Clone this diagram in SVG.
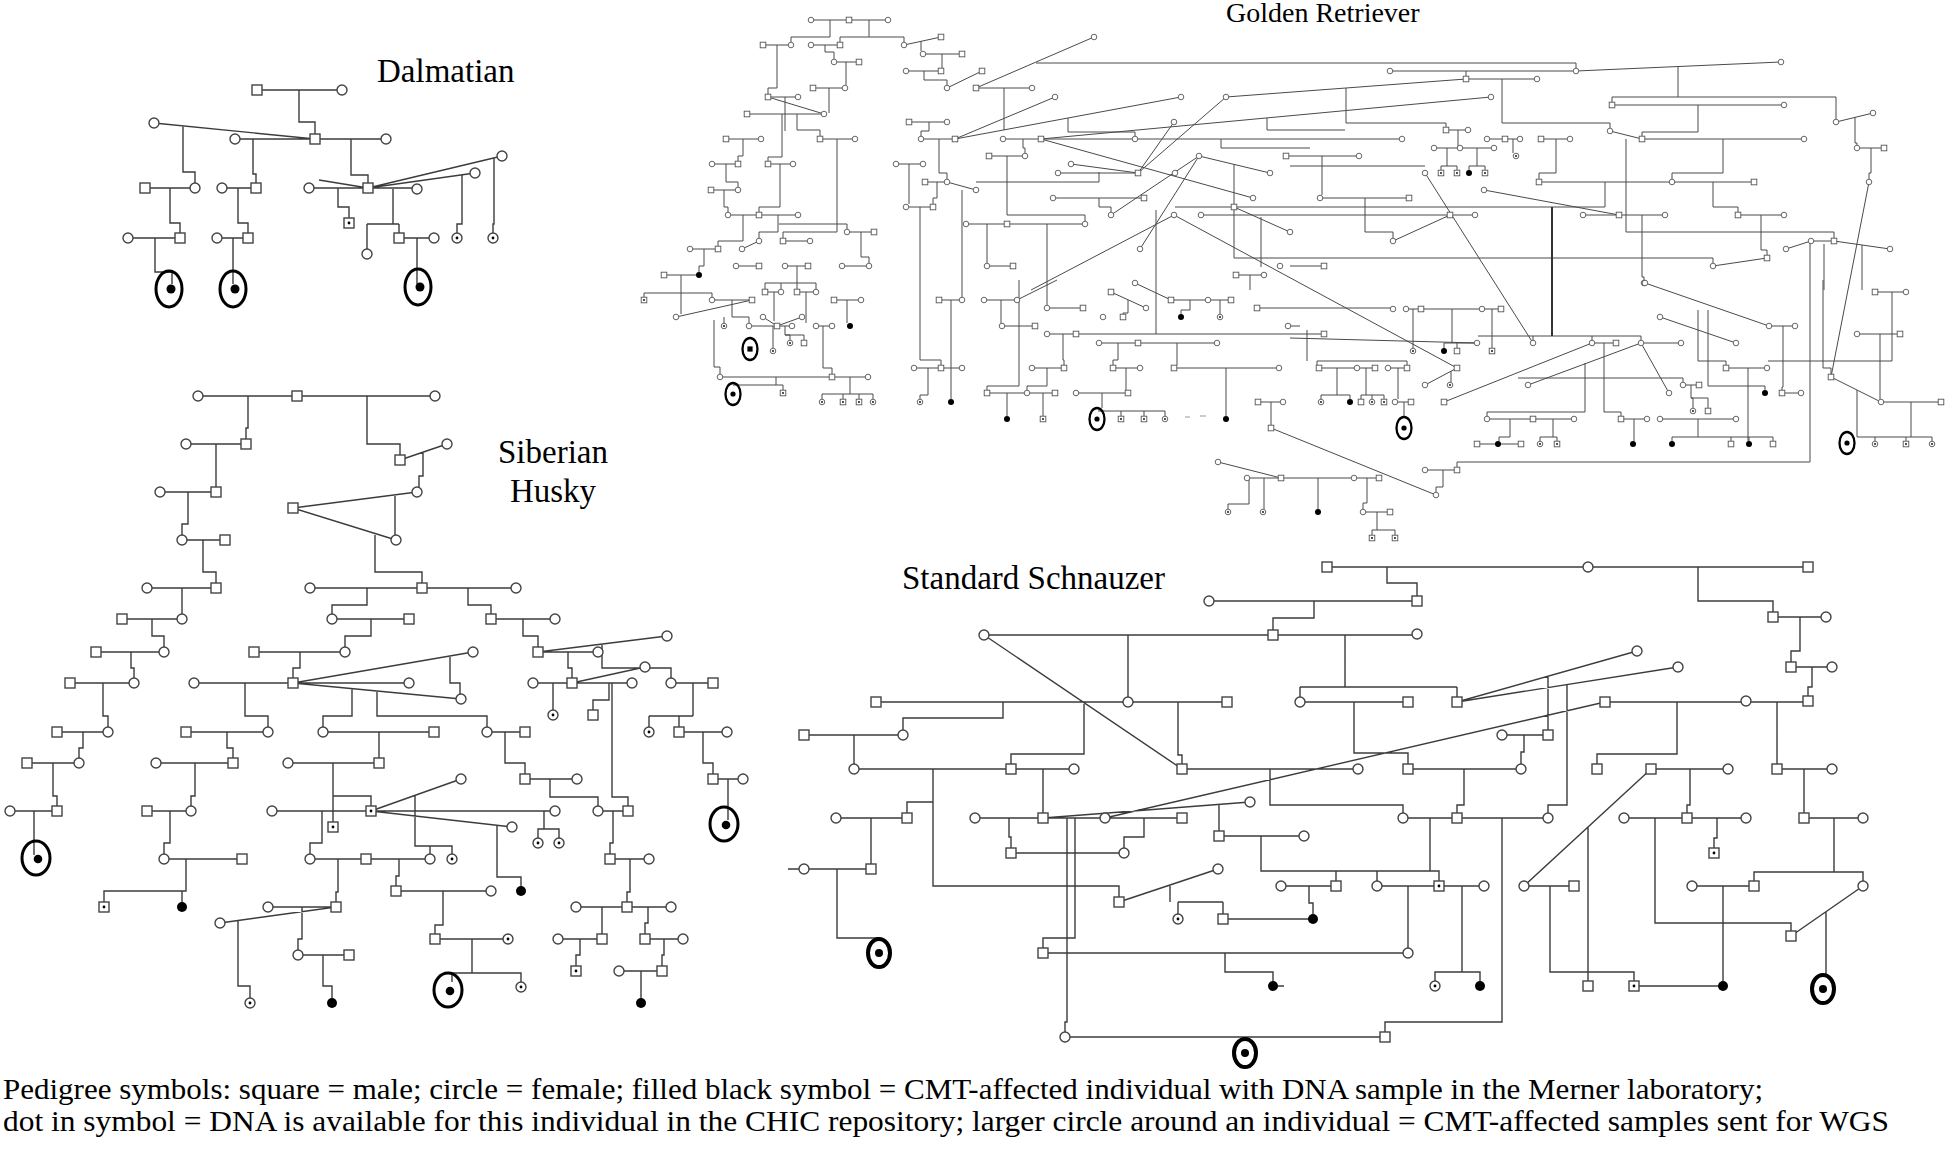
<svg xmlns="http://www.w3.org/2000/svg" xmlns:xlink="http://www.w3.org/1999/xlink" width="1946" height="1151" viewBox="0 0 1946 1151">
<style>
.c{fill:none;stroke:#3c3c3c;stroke-width:1.4}
.gc{fill:none;stroke:#4a4a4a;stroke-width:1}
.t{font-family:"Liberation Serif","Times New Roman",serif;fill:#000}
</style>
<defs>
<rect id="S" x="-5" y="-5" width="10" height="10" fill="#fff" stroke="#444" stroke-width="1.4"/>
<circle id="C" r="5" fill="#fff" stroke="#444" stroke-width="1.4"/>
<g id="Sd"><use href="#S"/><circle r="1.4" fill="#000"/></g>
<g id="Cd"><use href="#C"/><circle r="1.4" fill="#000"/></g>
<circle id="Cf" r="5" fill="#000"/>
<g id="R1"><ellipse rx="13" ry="18" fill="none" stroke="#000" stroke-width="3"/><circle cx="2" r="4.5" fill="#000"/></g>
<g id="R2"><ellipse rx="14" ry="17" fill="none" stroke="#000" stroke-width="3"/><circle cx="2" cy="1" r="4.3" fill="#000"/></g>
<g id="R3"><ellipse rx="11" ry="14" fill="none" stroke="#000" stroke-width="4"/><circle r="4" fill="#000"/></g>
<rect id="gS" x="-2.8" y="-2.8" width="5.6" height="5.6" fill="#fff" stroke="#555" stroke-width="0.9"/>
<circle id="gC" r="2.8" fill="#fff" stroke="#555" stroke-width="0.9"/>
<g id="gSd"><use href="#gS"/><circle r="0.9" fill="#000"/></g>
<g id="gCd"><use href="#gC"/><circle r="0.9" fill="#000"/></g>
<circle id="gCf" r="3" fill="#000"/>
<g id="gR"><ellipse rx="7.5" ry="11" fill="none" stroke="#000" stroke-width="2.3"/><circle r="2.6" fill="#000"/></g>
<g id="gRs"><ellipse rx="7.5" ry="11" fill="none" stroke="#000" stroke-width="2.3"/><rect x="-2.6" y="-2.6" width="5.2" height="5.2" fill="#000"/></g>
</defs>
<rect width="1946" height="1151" fill="#fff"/>

<g id="titles">
<text class="t" x="377" y="82" font-size="33">Dalmatian</text>
<text class="t" x="553" y="463" font-size="33" text-anchor="middle">Siberian</text>
<text class="t" x="553" y="502" font-size="33" text-anchor="middle">Husky</text>
<text class="t" x="1226" y="22" font-size="28">Golden Retriever</text>
<text class="t" x="902" y="589" font-size="33">Standard Schnauzer</text>
</g>

<g id="connectors">
<path class="c" d="M257 90H342M299 90V122H315V134M154 123L315 139M235 139H386M183 126V172H195V183M145 188H195M170 188V223H180V233M128 238H180M155 238V272H172V284M253 139V174H256V183M222 188H256M238 188V223H248V233M217 238H248M233 238V284M351 139V175H368V183M309 188H417M319 180L368 188M368 188L475 173M368 188L502 156M338 188V207H349V218M393 189V224M367 224H399M367 224V249M399 224V233M399 238H434M417 238V284M462 175V224H457V233M494 158V224H493V233"/>
<path class="c" d="M198 396H435M248 396V428H246V439M186 444H246M216 444V487M160 492H216M188 492V524H182V535M182 540H225M203 540V572H216V583M147 588H216M182 588V614M122 619H182M152 619V636H164V647M96 652H164M131 652V668H134V678M70 683H134M103 683V716H108V727M57 732H108M83 732V748H79V758M27 763H79M53 763V796H57V806M10 811H57M34 811V855M367 396V444H400V455M400 460L447 444M423 452V476H419V487M293 508L417 492M293 508L396 540M395 495V535M375 533V572H422V583M310 588H516M468 588V605H491V614M491 619H555M367 588V605H332V614M332 619H409M371 619V636H345V647M254 652H345M300 652V668H293V678M194 683H293M293 683L473 652M293 683H409M293 683L461 699M450 656V683H460V694M523 619V636H538V647M538 652H598M538 652L667 636M568 652V668H572V678M602 644V668H671V678M533 683H632M572 683L645 667M671 683H713M245 683V716H268V727M186 732H268M227 732V748H233V758M156 763H233M195 763V796H191V806M147 811H191M170 811V843H164V854M164 859H242M186 859V891H104V902M182 891V902M352 689V716H323V727M377 691V716H487V727M323 732H434M379 732V758M288 763H379M333 763V822M333 796H371V806M272 811H371M322 811V843H310V854M310 859H366M338 859V892H336V902M268 907H336M302 907V939H298V950M298 955H349M323 955V986H332V998M220 923L336 907M238 921V986H250V998M487 732H525M505 732V763H525V774M525 779H577M550 779V797H598V806M598 811H628M612 683V797H628V806M613 811V843H610V854M610 859H649M630 859V892H627V902M576 907H671M602 907V934M558 939H602M580 939V955H576V966M648 907V923H645V934M645 939H683M664 939V955H662V966M619 971H662M641 971V998M693 683V716M649 716H693M649 716V727M679 716V727M679 732H727M703 732V763H713V774M713 779H743M728 779V820M553 683V710M609 683V700H593V710M371 811H555M371 811L461 779M371 811L512 827M544 811V829H538V838M544 829H559V838M415 795V846H452V854M430 846V854M366 859H430M399 859V876H396V886M396 891H491M443 891V925H435V934M435 939H508M472 939V973H452V982M472 973H521V982M497 825V877H521V886"/>
<path class="c" d="M1327 567H1808M1387 567V583H1417V596M1698 567V601H1773V612M1209 601H1417M1314 601V618H1273V630M984 635H1417M1128 635V697M1345 635V687M1300 687H1457M1300 687V697M1457 687V697M876 702H1227M984 635L1182 769M1003 702V718H903V730M804 735H903M854 735V764M1084 702V754H1011V764M854 769H1074M1178 702V755H1182V764M1182 769H1358M1270 769V805H1403V813M1354 702V753H1408V764M1300 702H1408M933 769V802H907V813M933 802V886H1119V897M836 818H907M871 818V864M804 869H871M788 869H799M837 869V938H879V940M1043 769V813M975 818H1182M1043 818L1250 802M1105 818L1605 702M1009 818V837H1011V848M1011 853H1124M1144 818V837H1124V848M1075 818V938H1043V948M1067 818V1022H1065V1032M1043 953H1408M1225 953V972H1273V981M1273 986H1284M1065 1037H1385M1119 902L1218 869M1170 885V902M1178 902H1223M1178 902V914M1223 902V914M1223 919H1313M1281 886H1336M1309 886V903H1313V914M1219 804V831M1219 836H1304M1261 836V871H1439V881M1336 871V881M1377 871V881M1773 617H1826M1800 617V651H1791V662M1791 667H1832M1812 667V687H1808V696M1605 702H1808M1677 702V754H1597V764M1777 702V764M1777 769H1832M1804 769V813M1804 818H1863M1834 818V872H1754V881M1834 872H1863V881M1692 886H1754M1723 886V981M1863 886L1791 936M1826 912V975M1651 769H1728M1651 769L1524 886M1690 769V805H1687V813M1624 818H1746M1717 818V838H1714V848M1655 818V923H1791V931M1524 886H1574M1550 886V972H1634V981M1634 986H1723M1588 827V981M1457 702L1637 651M1457 702L1678 667M1548 676V730M1502 735H1548M1524 735V752H1521V764M1408 769H1521M1464 769V805H1457V813M1403 818H1548M1567 685V805H1548V813M1430 818V871M1377 886H1484M1462 886V972H1435V981M1462 972H1480V981M1408 886V948M1502 818V1022H1385V1032"/>
<path class="gc" d="M811 20H888M830 20V37H791V42M869 20V37M840 37H904M840 37V42M904 37V42M763 45H791M811 45H840M904 45L941 37M921 41V51M923 54H962M942 54V68M906 71H941M924 71V80H947V85M947 88L982 71M976 88H1032M976 88L1094 37M1036 63H1576V68M1004 88V130M825 45V52H834V59M834 62H859M846 62V85M813 88H845M829 88V113M777 45V88H768V94M768 97H798M768 97L824 114M747 114H824M785 97V131M782 114V157H768V161M797 114V130H820V136M820 139H855M837 139V232H783V238M726 139H761M743 139V156H738V161M712 164H738M726 164V182H738V187M711 190H738M724 190V207H728V212M768 164H793M780 164V207H759V212M728 215H798M778 215V232H759V238M783 241H810M742 249L759 241M743 215V241H718V246M690 249H718M704 249V266H699V272M664 275H699M681 275V314M736 266H759M785 266H808M797 266V283M765 283H816M765 283V289M781 283V289M797 283V289M816 283V289M765 292H781M797 292H816M842 266H869M847 232H874M861 232V257H869V263M779 224H847V229M896 164H923M909 164V204M906 207H933M920 207V360H941V365M909 122H947M929 122V131H921V136M921 139H955M955 139L1055 97M955 139L1181 97M939 139V173H947V179M925 182H947M947 182L976 190M937 182V198H933V204M976 182H1099V172M962 190V297M1003 139H1402M1023 139V148H1025V153M989 156H1025M1007 156V215H1085V221M966 224H1085M987 224V263M987 266H1013M1047 224V305M1041 139L1491 97M1041 139L1253 198M1226 97L1466 79M1226 97L1138 173M1174 122L1138 173M1071 164L1138 173M1058 173H1138M1199 156L1140 249M1199 156L1111 215M1199 156L1270 173M1053 198H1144M1099 198V207H1111V212M1234 207L1290 232M1234 164V258H1713V263M1174 215L1031 290M1174 215L1457 368M1201 215H1450M1286 156H1359M1236 275H1264M1267 118V130H1345M1221 139V148H1310M1068 118V132H1135V136M1156 210V334M1261 217V267M1250 275V290"/>
<path class="gc" d="M1390 71H1576L1781 62M1466 71V76M1466 79H1537M1346 88V123H1446V127M1446 130H1468M1502 79V123H1610V128M1610 131L1642 139M1642 139H1804M1678 66V97M1612 97H1836M1612 97V102M1836 97V119M1612 105H1784M1698 105V132H1642V136M1836 122L1873 113M1855 117V143H1857V145M1857 148H1884M1871 148V173H1869V179M1869 182L1831 377M1487 139H1520M1513 139V153M1541 139H1570M1556 139V173H1539V179M1434 148H1494M1458 130V148M1447 148V166H1441V170M1447 166H1457V170M1477 148V166H1469V170M1477 166H1485V170M1290 166H1425M1425 173L1533 343M1539 182H1754M1605 182V207H1175M1713 182V207H1738V212M1738 215H1784M1761 215V250H1767V255M1723 139V173H1672V179M1484 190L1619 215M1583 215H1665M1642 215V277H1644V280M1320 198H1409M1322 156V195M1365 198V232H1393V238M1393 241L1450 215M1450 215H1475M1713 266L1767 258M1626 139V232H1834V238M1811 241H1834M1786 249L1811 241M1834 241L1890 249M1810 241V462H1457V467M1824 244V290M1862 245V290M1290 266H1324M1257 308H1393M1406 309H1501M1452 309V343M1444 343H1477M1444 343V348M1457 343V348M1492 309V348M1413 309V348M1290 338L1477 343M1076 334H1324M1457 368L1425 385M1451 371V382M1319 368H1375M1388 368H1407M1317 361H1407M1317 361V365M1407 361V365M1307 330V361M1337 368V395H1321V399M1337 395H1350V399M1366 368V395H1361V399M1366 395H1384V399M1372 395V399M1398 368V399M1395 402H1411M1404 402V417M1444 402L1592 343M1478 336H1641M1533 336V340M1592 336V340M1641 336V340M1592 343H1616M1641 343H1681M1641 343L1528 385M1641 343L1669 393M1518 378H1683V382M1683 385H1699M1691 385V398H1693V408M1691 398H1708V408M1487 419H1574M1585 363V412H1487V416M1510 419V437H1499V441M1477 444H1521M1553 419V437H1540V441M1553 437H1557V441M1621 419H1647M1604 343V412H1621V416M1634 419V441M1660 419H1736M1698 419V437H1672V441M1698 437H1773V441M1731 437V441M1749 437V441M1660 317L1736 343M1645 283L1769 326M1769 326H1795M1783 326V387H1782V390M1782 393H1801M1726 368H1767M1698 310V361H1726V365M1748 368V441M1708 310V386H1765V390M1768 361H1892V292M1425 470H1457M1443 470V487H1436V492M1271 428L1436 495M1258 402H1283M1271 402V425M1247 478H1379M1218 462L1281 478M1318 478V509M1367 478V503H1363V509M1363 512H1390M1377 512V530H1372V535M1377 530H1395V535M1249 478V504H1228V509M1264 478V509M1875 292H1906M1857 334H1900M1880 334V399M1831 377L1881 402M1881 402H1941M1823 280V368H1831V374M1857 390V437H1932V441M1875 437V441M1906 437V441M1911 402V437"/>
<path class="gc" d="M644 293H712M644 293V297M712 293V297M712 300H752M752 300L676 317M732 300V317H749V323M724 317V323M749 326H792M763 317L777 326M802 317L777 326M774 292V321M806 292V323M816 326H832M823 326V368H832V374M834 300H861M847 300V323M785 326V335H790V340M785 335H804V340M773 326V348M720 377H868M714 320V367H720V374M776 377V385H733M776 385H783V390M850 377V394H822V399M850 394H873V399M843 394V399M859 394V399M939 300H962M951 300V399M914 368H962M928 368V395H920V399M984 300H1017M1017 300L1057 280M1001 300V323M1002 326H1035M1019 280V386H987V390M987 393H1055M1007 393V416M1043 393V416M1047 308H1083M1032 368H1064M1047 368V386H1027V390M1047 334H1076M1063 334V360H1064V365M1099 343H1217M1118 343V360H1113V365M1113 368H1140M1126 368V390M1076 393H1128M1102 393V408M1098 411H1165V416M1121 411V416M1144 411V416M1174 368H1279M1226 368V416M1177 343V365M1111 292L1146 308M1128 300V313H1123V314M1135 283L1171 300M1171 300H1231M1190 300V310H1181V314M1220 300V314M1288 326H1300"/>
<path fill="none" stroke="#333" stroke-width="2" d="M1552 207V336"/>
<path fill="none" stroke="#999" stroke-width="1" d="M1185 417H1190M1200 416H1206"/>
</g>

<g id="dalmatian">
<g id="d1"><use href="#S" x="257" y="90"/></g><g id="d2"><use href="#C" x="342" y="90"/></g>
<g id="d3"><use href="#S" x="315" y="139"/></g><g id="d4"><use href="#C" x="154" y="123"/></g>
<g id="d5"><use href="#C" x="235" y="139"/></g><g id="d6"><use href="#C" x="386" y="139"/></g>
<g id="d7"><use href="#C" x="195" y="188"/></g><g id="d8"><use href="#S" x="145" y="188"/></g>
<g id="d9"><use href="#S" x="180" y="238"/></g><g id="d10"><use href="#C" x="128" y="238"/></g>
<g id="d11"><use href="#R1" x="169" y="289"/></g>
<g id="d12"><use href="#S" x="256" y="188"/></g><g id="d13"><use href="#C" x="222" y="188"/></g>
<g id="d14"><use href="#S" x="248" y="238"/></g><g id="d15"><use href="#C" x="217" y="238"/></g>
<g id="d16"><use href="#R1" x="233" y="289"/></g>
<g id="d17"><use href="#S" x="368" y="188"/></g><g id="d18"><use href="#C" x="309" y="188"/></g>
<g id="d19"><use href="#C" x="417" y="189"/></g><g id="d20"><use href="#C" x="475" y="173"/></g>
<g id="d21"><use href="#C" x="502" y="156"/></g><g id="d22"><use href="#Sd" x="349" y="223"/></g>
<g id="d23"><use href="#C" x="367" y="254"/></g><g id="d24"><use href="#S" x="399" y="238"/></g>
<g id="d25"><use href="#C" x="434" y="238"/></g><g id="d26"><use href="#R1" x="418" y="287"/></g>
<g id="d27"><use href="#Cd" x="457" y="238"/></g><g id="d28"><use href="#Cd" x="493" y="238"/></g>
</g>

<g id="husky">
<g id="h1"><use href="#C" x="198" y="396"/></g><g id="h2"><use href="#S" x="297" y="396"/></g><g id="h3"><use href="#C" x="435" y="396"/></g>
<g id="h4"><use href="#S" x="246" y="444"/></g><g id="h5"><use href="#C" x="186" y="444"/></g>
<g id="h6"><use href="#S" x="216" y="492"/></g><g id="h7"><use href="#C" x="160" y="492"/></g>
<g id="h8"><use href="#C" x="182" y="540"/></g><g id="h9"><use href="#S" x="225" y="540"/></g>
<g id="h10"><use href="#S" x="216" y="588"/></g><g id="h11"><use href="#C" x="147" y="588"/></g>
<g id="h12"><use href="#C" x="182" y="619"/></g><g id="h13"><use href="#S" x="122" y="619"/></g>
<g id="h14"><use href="#C" x="164" y="652"/></g><g id="h15"><use href="#S" x="96" y="652"/></g>
<g id="h16"><use href="#C" x="134" y="683"/></g><g id="h17"><use href="#S" x="70" y="683"/></g>
<g id="h18"><use href="#C" x="108" y="732"/></g><g id="h19"><use href="#S" x="57" y="732"/></g>
<g id="h20"><use href="#C" x="79" y="763"/></g><g id="h21"><use href="#S" x="27" y="763"/></g>
<g id="h22"><use href="#S" x="57" y="811"/></g><g id="h23"><use href="#C" x="10" y="811"/></g>
<g id="h24"><use href="#R2" x="36" y="858"/></g>
<g id="h25"><use href="#S" x="400" y="460"/></g><g id="h26"><use href="#C" x="447" y="444"/></g>
<g id="h27"><use href="#S" x="293" y="508"/></g><g id="h28"><use href="#C" x="417" y="492"/></g><g id="h29"><use href="#C" x="396" y="540"/></g>
<g id="h30"><use href="#C" x="310" y="588"/></g><g id="h31"><use href="#S" x="422" y="588"/></g><g id="h32"><use href="#C" x="516" y="588"/></g>
<g id="h33"><use href="#C" x="332" y="619"/></g><g id="h34"><use href="#S" x="409" y="619"/></g>
<g id="h35"><use href="#S" x="491" y="619"/></g><g id="h36"><use href="#C" x="555" y="619"/></g>
<g id="h37"><use href="#C" x="345" y="652"/></g><g id="h38"><use href="#S" x="254" y="652"/></g>
<g id="h39"><use href="#S" x="293" y="683"/></g><g id="h40"><use href="#C" x="194" y="683"/></g>
<g id="h41"><use href="#C" x="473" y="652"/></g><g id="h42"><use href="#C" x="409" y="683"/></g><g id="h43"><use href="#C" x="461" y="699"/></g>
<g id="h44"><use href="#S" x="538" y="652"/></g><g id="h45"><use href="#C" x="598" y="652"/></g><g id="h46"><use href="#C" x="667" y="636"/></g>
<g id="h47"><use href="#S" x="572" y="683"/></g><g id="h48"><use href="#C" x="533" y="683"/></g><g id="h49"><use href="#C" x="632" y="683"/></g><g id="h50"><use href="#C" x="645" y="667"/></g>
<g id="h51"><use href="#C" x="671" y="683"/></g><g id="h52"><use href="#S" x="713" y="683"/></g>
<g id="h53"><use href="#C" x="268" y="732"/></g><g id="h54"><use href="#S" x="186" y="732"/></g>
<g id="h55"><use href="#S" x="233" y="763"/></g><g id="h56"><use href="#C" x="156" y="763"/></g>
<g id="h57"><use href="#C" x="191" y="811"/></g><g id="h58"><use href="#S" x="147" y="811"/></g>
<g id="h59"><use href="#C" x="164" y="859"/></g><g id="h60"><use href="#S" x="242" y="859"/></g>
<g id="h61"><use href="#Sd" x="104" y="907"/></g><g id="h62"><use href="#Cf" x="182" y="907"/></g>
<g id="h63"><use href="#C" x="323" y="732"/></g><g id="h64"><use href="#S" x="434" y="732"/></g>
<g id="h65"><use href="#C" x="288" y="763"/></g><g id="h66"><use href="#S" x="379" y="763"/></g>
<g id="h67"><use href="#Sd" x="371" y="811"/></g><g id="h68"><use href="#C" x="272" y="811"/></g>
<g id="h69"><use href="#Sd" x="333" y="827"/></g>
<g id="h70"><use href="#C" x="310" y="859"/></g><g id="h71"><use href="#S" x="366" y="859"/></g>
<g id="h72"><use href="#S" x="336" y="907"/></g><g id="h73"><use href="#C" x="268" y="907"/></g>
<g id="h74"><use href="#C" x="298" y="955"/></g><g id="h75"><use href="#S" x="349" y="955"/></g>
<g id="h76"><use href="#Cf" x="332" y="1003"/></g><g id="h77"><use href="#C" x="220" y="923"/></g>
<g id="h78"><use href="#Cd" x="250" y="1003"/></g>
<g id="h79"><use href="#C" x="487" y="732"/></g><g id="h80"><use href="#S" x="525" y="732"/></g>
<g id="h81"><use href="#S" x="525" y="779"/></g><g id="h82"><use href="#C" x="577" y="779"/></g>
<g id="h83"><use href="#C" x="598" y="811"/></g><g id="h84"><use href="#S" x="628" y="811"/></g>
<g id="h85"><use href="#S" x="610" y="859"/></g><g id="h86"><use href="#C" x="649" y="859"/></g>
<g id="h87"><use href="#S" x="627" y="907"/></g><g id="h88"><use href="#C" x="576" y="907"/></g><g id="h89"><use href="#C" x="671" y="907"/></g>
<g id="h90"><use href="#S" x="602" y="939"/></g><g id="h91"><use href="#C" x="558" y="939"/></g>
<g id="h92"><use href="#Sd" x="576" y="971"/></g>
<g id="h93"><use href="#S" x="645" y="939"/></g><g id="h94"><use href="#C" x="683" y="939"/></g>
<g id="h95"><use href="#S" x="662" y="971"/></g><g id="h96"><use href="#C" x="619" y="971"/></g>
<g id="h97"><use href="#Cf" x="641" y="1003"/></g>
<g id="h98"><use href="#Cd" x="649" y="732"/></g><g id="h99"><use href="#S" x="679" y="732"/></g><g id="h100"><use href="#C" x="727" y="732"/></g>
<g id="h101"><use href="#S" x="713" y="779"/></g><g id="h102"><use href="#C" x="743" y="779"/></g>
<g id="h103"><use href="#R2" x="724" y="824"/></g>
<g id="h104"><use href="#Cd" x="553" y="715"/></g><g id="h105"><use href="#S" x="593" y="715"/></g>
<g id="h106"><use href="#C" x="555" y="811"/></g><g id="h106b"><use href="#C" x="461" y="779"/></g><g id="h106c"><use href="#C" x="512" y="827"/></g>
<g id="h107"><use href="#Cd" x="538" y="843"/></g><g id="h108"><use href="#Cd" x="559" y="843"/></g>
<g id="h109"><use href="#C" x="430" y="859"/></g><g id="h110"><use href="#Cd" x="452" y="859"/></g>
<g id="h111"><use href="#S" x="396" y="891"/></g><g id="h112"><use href="#C" x="491" y="891"/></g>
<g id="h113"><use href="#S" x="435" y="939"/></g><g id="h114"><use href="#Cd" x="508" y="939"/></g>
<g id="h115"><use href="#R2" x="448" y="990"/></g><g id="h116"><use href="#Cd" x="521" y="987"/></g>
<g id="h117"><use href="#Cf" x="521" y="891"/></g>
</g>

<g id="schnauzer">
<g id="s1"><use href="#S" x="1327" y="567"/></g><g id="s2"><use href="#C" x="1588" y="567"/></g><g id="s3"><use href="#S" x="1808" y="567"/></g>
<g id="s4"><use href="#S" x="1417" y="601"/></g><g id="s5"><use href="#C" x="1209" y="601"/></g>
<g id="s6"><use href="#S" x="1273" y="635"/></g><g id="s7"><use href="#C" x="984" y="635"/></g><g id="s8"><use href="#C" x="1417" y="634"/></g>
<g id="s9"><use href="#C" x="1128" y="702"/></g><g id="s10"><use href="#C" x="1300" y="702"/></g><g id="s11"><use href="#S" x="876" y="702"/></g><g id="s12"><use href="#S" x="1227" y="702"/></g>
<g id="s13"><use href="#C" x="903" y="735"/></g><g id="s14"><use href="#S" x="804" y="735"/></g>
<g id="s15"><use href="#C" x="854" y="769"/></g><g id="s16"><use href="#S" x="1011" y="769"/></g><g id="s17"><use href="#C" x="1074" y="769"/></g>
<g id="s18"><use href="#S" x="1182" y="769"/></g><g id="s19"><use href="#C" x="1358" y="769"/></g>
<g id="s20"><use href="#S" x="907" y="818"/></g><g id="s21"><use href="#C" x="836" y="818"/></g>
<g id="s22"><use href="#S" x="871" y="869"/></g><g id="s23"><use href="#C" x="804" y="869"/></g>
<g id="s24"><use href="#R3" x="879" y="953"/></g>
<g id="s25"><use href="#S" x="1043" y="818"/></g><g id="s26"><use href="#C" x="975" y="818"/></g><g id="s27"><use href="#C" x="1105" y="818"/></g><g id="s28"><use href="#S" x="1182" y="818"/></g>
<g id="s29"><use href="#C" x="1250" y="802"/></g>
<g id="s30"><use href="#S" x="1011" y="853"/></g><g id="s31"><use href="#C" x="1124" y="853"/></g>
<g id="s32"><use href="#S" x="1043" y="953"/></g><g id="s33"><use href="#C" x="1065" y="1037"/></g>
<g id="s34"><use href="#R3" x="1245" y="1053"/></g>
<g id="s35"><use href="#S" x="1119" y="902"/></g><g id="s36"><use href="#C" x="1218" y="869"/></g>
<g id="s37"><use href="#Cd" x="1178" y="919"/></g><g id="s38"><use href="#S" x="1223" y="919"/></g><g id="s39"><use href="#Cf" x="1313" y="919"/></g>
<g id="s40"><use href="#C" x="1281" y="886"/></g><g id="s41"><use href="#S" x="1336" y="886"/></g>
<g id="s42"><use href="#S" x="1219" y="836"/></g><g id="s43"><use href="#C" x="1304" y="836"/></g>
<g id="s44"><use href="#Cf" x="1273" y="986"/></g>
<g id="s45"><use href="#C" x="1403" y="818"/></g><g id="s46"><use href="#S" x="1408" y="769"/></g><g id="s47"><use href="#S" x="1408" y="702"/></g>
<g id="s48"><use href="#S" x="1773" y="617"/></g><g id="s49"><use href="#C" x="1826" y="617"/></g>
<g id="s50"><use href="#S" x="1791" y="667"/></g><g id="s51"><use href="#C" x="1832" y="667"/></g>
<g id="s52"><use href="#S" x="1808" y="701"/></g><g id="s53"><use href="#C" x="1746" y="701"/></g><g id="s54"><use href="#S" x="1605" y="702"/></g>
<g id="s55"><use href="#S" x="1597" y="769"/></g>
<g id="s56"><use href="#S" x="1777" y="769"/></g><g id="s57"><use href="#C" x="1832" y="769"/></g>
<g id="s58"><use href="#S" x="1804" y="818"/></g><g id="s59"><use href="#C" x="1863" y="818"/></g>
<g id="s60"><use href="#S" x="1754" y="886"/></g><g id="s61"><use href="#C" x="1863" y="886"/></g><g id="s62"><use href="#C" x="1692" y="886"/></g>
<g id="s63"><use href="#Cf" x="1723" y="986"/></g><g id="s64"><use href="#S" x="1791" y="936"/></g>
<g id="s65"><use href="#R3" x="1823" y="989"/></g>
<g id="s66"><use href="#S" x="1651" y="769"/></g><g id="s67"><use href="#C" x="1728" y="769"/></g>
<g id="s68"><use href="#S" x="1687" y="818"/></g><g id="s69"><use href="#C" x="1624" y="818"/></g><g id="s70"><use href="#C" x="1746" y="818"/></g>
<g id="s71"><use href="#Sd" x="1714" y="853"/></g>
<g id="s72"><use href="#C" x="1524" y="886"/></g><g id="s73"><use href="#S" x="1574" y="886"/></g>
<g id="s74"><use href="#Sd" x="1634" y="986"/></g><g id="s75"><use href="#S" x="1588" y="986"/></g>
<g id="s76"><use href="#S" x="1457" y="702"/></g><g id="s77"><use href="#C" x="1637" y="651"/></g><g id="s78"><use href="#C" x="1678" y="667"/></g>
<g id="s79"><use href="#S" x="1548" y="735"/></g><g id="s80"><use href="#C" x="1502" y="735"/></g>
<g id="s81"><use href="#C" x="1521" y="769"/></g>
<g id="s82"><use href="#S" x="1457" y="818"/></g><g id="s83"><use href="#C" x="1548" y="818"/></g>
<g id="s84"><use href="#Sd" x="1439" y="886"/></g><g id="s85"><use href="#C" x="1377" y="886"/></g><g id="s86"><use href="#C" x="1484" y="886"/></g>
<g id="s87"><use href="#Cd" x="1435" y="986"/></g><g id="s88"><use href="#Cf" x="1480" y="986"/></g>
<g id="s89"><use href="#C" x="1408" y="953"/></g><g id="s90"><use href="#S" x="1385" y="1037"/></g>
</g>

<g id="golden">
<g id="g1"><use href="#gC" x="811" y="20"/></g><g id="g2"><use href="#gS" x="849" y="20"/></g><g id="g3"><use href="#gC" x="888" y="20"/></g>
<g id="g4"><use href="#gC" x="791" y="45"/></g><g id="g5"><use href="#gS" x="763" y="45"/></g><g id="g6"><use href="#gS" x="840" y="45"/></g><g id="g7"><use href="#gC" x="811" y="45"/></g>
<g id="g8"><use href="#gC" x="904" y="45"/></g><g id="g9"><use href="#gS" x="941" y="37"/></g><g id="g10"><use href="#gC" x="923" y="54"/></g><g id="g11"><use href="#gS" x="962" y="54"/></g>
<g id="g12"><use href="#gS" x="941" y="71"/></g><g id="g13"><use href="#gC" x="906" y="71"/></g><g id="g14"><use href="#gC" x="947" y="88"/></g><g id="g15"><use href="#gS" x="982" y="71"/></g>
<g id="g16"><use href="#gS" x="976" y="88"/></g><g id="g17"><use href="#gC" x="1032" y="88"/></g><g id="g18"><use href="#gC" x="1094" y="37"/></g>
<g id="g19"><use href="#gC" x="834" y="62"/></g><g id="g20"><use href="#gS" x="859" y="62"/></g><g id="g21"><use href="#gC" x="845" y="88"/></g><g id="g22"><use href="#gS" x="813" y="88"/></g>
<g id="g23"><use href="#gS" x="768" y="97"/></g><g id="g24"><use href="#gC" x="798" y="97"/></g><g id="g25"><use href="#gC" x="824" y="114"/></g><g id="g26"><use href="#gS" x="747" y="114"/></g>
<g id="g27"><use href="#gS" x="768" y="164"/></g><g id="g28"><use href="#gS" x="820" y="139"/></g><g id="g29"><use href="#gC" x="855" y="139"/></g><g id="g30"><use href="#gS" x="783" y="241"/></g><g id="g31"><use href="#gC" x="810" y="241"/></g>
<g id="g32"><use href="#gS" x="726" y="139"/></g><g id="g33"><use href="#gC" x="761" y="139"/></g><g id="g34"><use href="#gS" x="738" y="164"/></g><g id="g35"><use href="#gC" x="712" y="164"/></g>
<g id="g36"><use href="#gC" x="738" y="190"/></g><g id="g37"><use href="#gS" x="711" y="190"/></g><g id="g38"><use href="#gC" x="728" y="215"/></g>
<g id="g39"><use href="#gC" x="793" y="164"/></g><g id="g40"><use href="#gS" x="759" y="215"/></g><g id="g41"><use href="#gC" x="798" y="215"/></g><g id="g42"><use href="#gC" x="759" y="241"/></g><g id="g43"><use href="#gC" x="742" y="249"/></g>
<g id="g44"><use href="#gS" x="718" y="249"/></g><g id="g45"><use href="#gC" x="690" y="249"/></g><g id="g46"><use href="#gCf" x="699" y="275"/></g><g id="g47"><use href="#gS" x="664" y="275"/></g><g id="g48"><use href="#gC" x="676" y="317"/></g>
<g id="g49"><use href="#gC" x="736" y="266"/></g><g id="g50"><use href="#gS" x="759" y="266"/></g><g id="g51"><use href="#gC" x="785" y="266"/></g><g id="g52"><use href="#gS" x="808" y="266"/></g>
<g id="g53"><use href="#gS" x="765" y="292"/></g><g id="g54"><use href="#gC" x="781" y="292"/></g><g id="g55"><use href="#gS" x="797" y="292"/></g><g id="g56"><use href="#gC" x="816" y="292"/></g>
<g id="g57"><use href="#gC" x="842" y="266"/></g><g id="g58"><use href="#gC" x="869" y="266"/></g><g id="g59"><use href="#gC" x="847" y="232"/></g><g id="g60"><use href="#gS" x="874" y="232"/></g>
<g id="g61"><use href="#gC" x="896" y="164"/></g><g id="g62"><use href="#gC" x="923" y="164"/></g><g id="g63"><use href="#gC" x="906" y="207"/></g><g id="g64"><use href="#gS" x="933" y="207"/></g>
<g id="g65"><use href="#gS" x="909" y="122"/></g><g id="g66"><use href="#gC" x="947" y="122"/></g><g id="g67"><use href="#gC" x="921" y="139"/></g><g id="g68"><use href="#gS" x="955" y="139"/></g>
<g id="g69"><use href="#gC" x="1055" y="97"/></g><g id="g70"><use href="#gC" x="1181" y="97"/></g>
<g id="g71"><use href="#gC" x="947" y="182"/></g><g id="g72"><use href="#gS" x="925" y="182"/></g><g id="g73"><use href="#gC" x="976" y="190"/></g>
<g id="g74"><use href="#gC" x="1003" y="139"/></g><g id="g75"><use href="#gS" x="1041" y="139"/></g><g id="g76"><use href="#gC" x="1135" y="139"/></g><g id="g77"><use href="#gC" x="1402" y="139"/></g>
<g id="g78"><use href="#gC" x="1025" y="156"/></g><g id="g79"><use href="#gS" x="989" y="156"/></g><g id="g80"><use href="#gC" x="1085" y="224"/></g><g id="g81"><use href="#gC" x="966" y="224"/></g><g id="g82"><use href="#gS" x="1007" y="224"/></g>
<g id="g83"><use href="#gC" x="987" y="266"/></g><g id="g84"><use href="#gS" x="1013" y="266"/></g>
<g id="g85"><use href="#gC" x="1491" y="97"/></g><g id="g86"><use href="#gC" x="1253" y="198"/></g><g id="g87"><use href="#gC" x="1226" y="97"/></g><g id="g88"><use href="#gS" x="1138" y="173"/></g>
<g id="g89"><use href="#gC" x="1174" y="122"/></g><g id="g90"><use href="#gC" x="1175" y="173"/></g><g id="g91"><use href="#gC" x="1071" y="164"/></g><g id="g92"><use href="#gC" x="1058" y="173"/></g>
<g id="g93"><use href="#gC" x="1199" y="156"/></g><g id="g94"><use href="#gC" x="1140" y="249"/></g><g id="g95"><use href="#gC" x="1111" y="215"/></g><g id="g96"><use href="#gC" x="1270" y="173"/></g>
<g id="g97"><use href="#gS" x="1144" y="198"/></g><g id="g98"><use href="#gC" x="1053" y="198"/></g>
<g id="g99"><use href="#gS" x="1234" y="207"/></g><g id="g100"><use href="#gC" x="1290" y="232"/></g><g id="g101"><use href="#gC" x="1174" y="215"/></g><g id="g102"><use href="#gC" x="1201" y="215"/></g>
<g id="g103"><use href="#gS" x="1286" y="156"/></g><g id="g104"><use href="#gC" x="1359" y="156"/></g><g id="g105"><use href="#gC" x="1280" y="266"/></g><g id="g106"><use href="#gS" x="1236" y="275"/></g><g id="g107"><use href="#gC" x="1264" y="275"/></g>
<g id="g108"><use href="#gC" x="1576" y="71"/></g><g id="g109"><use href="#gC" x="1390" y="71"/></g><g id="g110"><use href="#gC" x="1781" y="62"/></g><g id="g111"><use href="#gS" x="1466" y="79"/></g><g id="g112"><use href="#gC" x="1537" y="79"/></g>
<g id="g113"><use href="#gS" x="1446" y="130"/></g><g id="g114"><use href="#gC" x="1468" y="130"/></g><g id="g115"><use href="#gC" x="1610" y="131"/></g><g id="g116"><use href="#gS" x="1642" y="139"/></g><g id="g117"><use href="#gC" x="1804" y="139"/></g>
<g id="g118"><use href="#gS" x="1612" y="105"/></g><g id="g119"><use href="#gC" x="1784" y="105"/></g><g id="g120"><use href="#gC" x="1836" y="122"/></g><g id="g121"><use href="#gC" x="1873" y="113"/></g>
<g id="g122"><use href="#gC" x="1857" y="148"/></g><g id="g123"><use href="#gS" x="1884" y="148"/></g><g id="g124"><use href="#gC" x="1869" y="182"/></g>
<g id="g125"><use href="#gC" x="1487" y="139"/></g><g id="g126"><use href="#gS" x="1505" y="139"/></g><g id="g127"><use href="#gC" x="1520" y="139"/></g><g id="g128"><use href="#gCd" x="1516" y="156"/></g>
<g id="g129"><use href="#gS" x="1541" y="139"/></g><g id="g130"><use href="#gC" x="1570" y="139"/></g><g id="g131"><use href="#gS" x="1539" y="182"/></g>
<g id="g132"><use href="#gC" x="1434" y="148"/></g><g id="g133"><use href="#gC" x="1460" y="148"/></g><g id="g134"><use href="#gC" x="1494" y="148"/></g>
<g id="g135"><use href="#gSd" x="1441" y="173"/></g><g id="g136"><use href="#gSd" x="1457" y="173"/></g><g id="g137"><use href="#gCf" x="1469" y="173"/></g><g id="g138"><use href="#gSd" x="1485" y="173"/></g>
<g id="g139"><use href="#gC" x="1425" y="173"/></g><g id="g140"><use href="#gC" x="1672" y="182"/></g><g id="g141"><use href="#gS" x="1754" y="182"/></g><g id="g142"><use href="#gS" x="1738" y="215"/></g>
<g id="g143"><use href="#gC" x="1784" y="215"/></g><g id="g144"><use href="#gS" x="1767" y="258"/></g>
<g id="g145"><use href="#gC" x="1484" y="190"/></g><g id="g146"><use href="#gC" x="1583" y="215"/></g><g id="g147"><use href="#gS" x="1619" y="215"/></g><g id="g148"><use href="#gC" x="1665" y="215"/></g><g id="g149"><use href="#gC" x="1644" y="283"/></g>
<g id="g150"><use href="#gC" x="1320" y="198"/></g><g id="g151"><use href="#gS" x="1409" y="198"/></g><g id="g152"><use href="#gC" x="1393" y="241"/></g><g id="g153"><use href="#gS" x="1450" y="215"/></g><g id="g154"><use href="#gC" x="1475" y="215"/></g>
<g id="g155"><use href="#gC" x="1713" y="266"/></g><g id="g156"><use href="#gS" x="1834" y="241"/></g><g id="g157"><use href="#gC" x="1811" y="241"/></g><g id="g158"><use href="#gC" x="1786" y="249"/></g><g id="g159"><use href="#gC" x="1890" y="249"/></g><g id="g160"><use href="#gS" x="1324" y="266"/></g>
<g id="g161"><use href="#gC" x="1393" y="309"/></g><g id="g162"><use href="#gC" x="1406" y="309"/></g><g id="g163"><use href="#gS" x="1421" y="309"/></g><g id="g164"><use href="#gC" x="1482" y="309"/></g><g id="g165"><use href="#gS" x="1501" y="309"/></g>
<g id="g166"><use href="#gC" x="1477" y="343"/></g><g id="g167"><use href="#gCf" x="1444" y="351"/></g><g id="g168"><use href="#gS" x="1457" y="351"/></g><g id="g169"><use href="#gSd" x="1492" y="351"/></g><g id="g170"><use href="#gCd" x="1413" y="351"/></g><g id="g171"><use href="#gS" x="1324" y="334"/></g>
<g id="g172"><use href="#gS" x="1457" y="368"/></g><g id="g173"><use href="#gC" x="1425" y="385"/></g><g id="g174"><use href="#gCd" x="1450" y="385"/></g>
<g id="g175"><use href="#gS" x="1319" y="368"/></g><g id="g176"><use href="#gC" x="1357" y="368"/></g><g id="g177"><use href="#gS" x="1375" y="368"/></g><g id="g178"><use href="#gC" x="1388" y="368"/></g><g id="g179"><use href="#gS" x="1407" y="368"/></g>
<g id="g180"><use href="#gCd" x="1321" y="402"/></g><g id="g181"><use href="#gCf" x="1350" y="402"/></g><g id="g182"><use href="#gS" x="1361" y="402"/></g><g id="g183"><use href="#gCd" x="1372" y="402"/></g><g id="g184"><use href="#gSd" x="1384" y="402"/></g>
<g id="g185"><use href="#gC" x="1395" y="402"/></g><g id="g186"><use href="#gS" x="1411" y="402"/></g><g id="g187"><use href="#gR" x="1404" y="428"/></g>
<g id="g188"><use href="#gS" x="1444" y="402"/></g><g id="g189"><use href="#gC" x="1592" y="343"/></g><g id="g190"><use href="#gC" x="1533" y="343"/></g><g id="g191"><use href="#gS" x="1616" y="343"/></g><g id="g192"><use href="#gC" x="1641" y="343"/></g><g id="g193"><use href="#gC" x="1681" y="343"/></g>
<g id="g194"><use href="#gC" x="1528" y="385"/></g><g id="g195"><use href="#gC" x="1669" y="393"/></g><g id="g196"><use href="#gC" x="1683" y="385"/></g><g id="g197"><use href="#gS" x="1699" y="385"/></g><g id="g198"><use href="#gCd" x="1693" y="411"/></g><g id="g199"><use href="#gS" x="1708" y="411"/></g>
<g id="g200"><use href="#gC" x="1487" y="419"/></g><g id="g201"><use href="#gS" x="1533" y="419"/></g><g id="g202"><use href="#gC" x="1574" y="419"/></g><g id="g203"><use href="#gCf" x="1498" y="444"/></g><g id="g204"><use href="#gS" x="1477" y="444"/></g><g id="g205"><use href="#gS" x="1521" y="444"/></g>
<g id="g206"><use href="#gCd" x="1540" y="444"/></g><g id="g207"><use href="#gSd" x="1557" y="444"/></g><g id="g208"><use href="#gS" x="1621" y="419"/></g><g id="g209"><use href="#gC" x="1647" y="419"/></g><g id="g210"><use href="#gCf" x="1633" y="444"/></g>
<g id="g211"><use href="#gC" x="1660" y="419"/></g><g id="g212"><use href="#gC" x="1736" y="419"/></g><g id="g213"><use href="#gCf" x="1672" y="444"/></g><g id="g214"><use href="#gS" x="1731" y="444"/></g><g id="g215"><use href="#gCf" x="1749" y="444"/></g><g id="g216"><use href="#gS" x="1773" y="444"/></g>
<g id="g217"><use href="#gC" x="1660" y="317"/></g><g id="g218"><use href="#gC" x="1736" y="343"/></g><g id="g219"><use href="#gC" x="1645" y="283"/></g><g id="g220"><use href="#gC" x="1769" y="326"/></g><g id="g221"><use href="#gC" x="1795" y="326"/></g>
<g id="g222"><use href="#gS" x="1782" y="393"/></g><g id="g223"><use href="#gC" x="1801" y="393"/></g><g id="g224"><use href="#gS" x="1726" y="368"/></g><g id="g225"><use href="#gC" x="1767" y="368"/></g><g id="g226"><use href="#gCf" x="1765" y="393"/></g>
<g id="g227"><use href="#gS" x="1457" y="470"/></g><g id="g228"><use href="#gC" x="1425" y="470"/></g><g id="g229"><use href="#gC" x="1436" y="495"/></g>
<g id="g230"><use href="#gC" x="1354" y="478"/></g><g id="g231"><use href="#gS" x="1379" y="478"/></g><g id="g232"><use href="#gCf" x="1318" y="512"/></g><g id="g233"><use href="#gC" x="1363" y="512"/></g><g id="g234"><use href="#gS" x="1390" y="512"/></g>
<g id="g235"><use href="#gSd" x="1372" y="538"/></g><g id="g236"><use href="#gSd" x="1395" y="538"/></g>
<g id="g237"><use href="#gS" x="1875" y="292"/></g><g id="g238"><use href="#gC" x="1906" y="292"/></g><g id="g239"><use href="#gC" x="1857" y="334"/></g><g id="g240"><use href="#gS" x="1900" y="334"/></g>
<g id="g241"><use href="#gS" x="1831" y="377"/></g><g id="g242"><use href="#gC" x="1881" y="402"/></g><g id="g243"><use href="#gS" x="1941" y="402"/></g>
<g id="g244"><use href="#gR" x="1847" y="443"/></g><g id="g245"><use href="#gCd" x="1875" y="444"/></g><g id="g246"><use href="#gSd" x="1906" y="444"/></g><g id="g247"><use href="#gCd" x="1932" y="444"/></g>
<g id="g248"><use href="#gSd" x="644" y="300"/></g><g id="g249"><use href="#gC" x="712" y="300"/></g><g id="g250"><use href="#gS" x="752" y="300"/></g>
<g id="g251"><use href="#gCd" x="724" y="326"/></g><g id="g252"><use href="#gC" x="749" y="326"/></g><g id="g253"><use href="#gS" x="777" y="326"/></g><g id="g254"><use href="#gC" x="792" y="326"/></g><g id="g255"><use href="#gC" x="763" y="317"/></g><g id="g256"><use href="#gC" x="802" y="317"/></g>
<g id="g257"><use href="#gC" x="816" y="326"/></g><g id="g258"><use href="#gC" x="832" y="326"/></g><g id="g259"><use href="#gS" x="832" y="377"/></g><g id="g260"><use href="#gS" x="834" y="300"/></g><g id="g261"><use href="#gC" x="861" y="300"/></g><g id="g262"><use href="#gCf" x="850" y="326"/></g>
<g id="g263"><use href="#gCd" x="790" y="343"/></g><g id="g264"><use href="#gS" x="804" y="343"/></g><g id="g265"><use href="#gRs" x="750" y="349"/></g><g id="g266"><use href="#gCd" x="773" y="351"/></g>
<g id="g267"><use href="#gC" x="720" y="377"/></g><g id="g268"><use href="#gC" x="868" y="377"/></g><g id="g269"><use href="#gR" x="733" y="394"/></g><g id="g270"><use href="#gSd" x="783" y="393"/></g>
<g id="g271"><use href="#gCd" x="822" y="402"/></g><g id="g272"><use href="#gSd" x="843" y="402"/></g><g id="g273"><use href="#gSd" x="859" y="402"/></g><g id="g274"><use href="#gCd" x="873" y="402"/></g>
<g id="g275"><use href="#gS" x="939" y="300"/></g><g id="g276"><use href="#gC" x="962" y="300"/></g><g id="g277"><use href="#gCf" x="951" y="402"/></g><g id="g278"><use href="#gC" x="914" y="368"/></g><g id="g279"><use href="#gS" x="941" y="368"/></g><g id="g280"><use href="#gC" x="962" y="368"/></g><g id="g281"><use href="#gCd" x="920" y="402"/></g>
<g id="g282"><use href="#gC" x="984" y="300"/></g><g id="g283"><use href="#gC" x="1017" y="300"/></g><g id="g284"><use href="#gC" x="1002" y="326"/></g><g id="g285"><use href="#gS" x="1035" y="326"/></g>
<g id="g286"><use href="#gS" x="987" y="393"/></g><g id="g287"><use href="#gC" x="1027" y="393"/></g><g id="g288"><use href="#gS" x="1055" y="393"/></g><g id="g289"><use href="#gCf" x="1007" y="419"/></g><g id="g290"><use href="#gSd" x="1043" y="419"/></g>
<g id="g291"><use href="#gC" x="1047" y="308"/></g><g id="g292"><use href="#gS" x="1083" y="308"/></g><g id="g293"><use href="#gC" x="1032" y="368"/></g><g id="g294"><use href="#gS" x="1064" y="368"/></g><g id="g295"><use href="#gC" x="1047" y="334"/></g><g id="g296"><use href="#gS" x="1076" y="334"/></g>
<g id="g297"><use href="#gC" x="1099" y="343"/></g><g id="g298"><use href="#gS" x="1138" y="343"/></g><g id="g299"><use href="#gC" x="1217" y="343"/></g><g id="g300"><use href="#gS" x="1113" y="368"/></g><g id="g301"><use href="#gC" x="1140" y="368"/></g>
<g id="g302"><use href="#gS" x="1128" y="393"/></g><g id="g303"><use href="#gC" x="1076" y="393"/></g>
<g id="g304"><use href="#gR" x="1097" y="419"/></g><g id="g305"><use href="#gSd" x="1121" y="419"/></g><g id="g306"><use href="#gSd" x="1144" y="419"/></g><g id="g307"><use href="#gCd" x="1165" y="419"/></g><g id="g308"><use href="#gCf" x="1226" y="419"/></g>
<g id="g309"><use href="#gS" x="1174" y="368"/></g><g id="g310"><use href="#gC" x="1279" y="368"/></g><g id="g311"><use href="#gS" x="1111" y="292"/></g><g id="g312"><use href="#gC" x="1146" y="308"/></g><g id="g313"><use href="#gS" x="1123" y="317"/></g><g id="g314"><use href="#gC" x="1103" y="317"/></g>
<g id="g315"><use href="#gC" x="1135" y="283"/></g><g id="g316"><use href="#gS" x="1171" y="300"/></g><g id="g317"><use href="#gC" x="1208" y="300"/></g><g id="g318"><use href="#gS" x="1231" y="300"/></g><g id="g319"><use href="#gCf" x="1181" y="317"/></g><g id="g320"><use href="#gCd" x="1220" y="317"/></g>
<g id="g321"><use href="#gS" x="1257" y="308"/></g><g id="g322"><use href="#gC" x="1288" y="326"/></g>
<g id="g323"><use href="#gS" x="1258" y="402"/></g><g id="g324"><use href="#gC" x="1283" y="402"/></g><g id="g325"><use href="#gS" x="1271" y="428"/></g><g id="g326"><use href="#gC" x="1218" y="462"/></g><g id="g327"><use href="#gS" x="1281" y="478"/></g><g id="g328"><use href="#gC" x="1247" y="478"/></g>
<g id="g329"><use href="#gCd" x="1228" y="512"/></g><g id="g330"><use href="#gCd" x="1263" y="512"/></g>
</g>

<g id="caption">
<text class="t" x="3" y="1099" font-size="30" textLength="1760" lengthAdjust="spacingAndGlyphs">Pedigree symbols: square = male; circle = female; filled black symbol = CMT-affected individual with DNA sample in the Merner laboratory;</text>
<text class="t" x="3" y="1131" font-size="30" textLength="1886" lengthAdjust="spacingAndGlyphs">dot in symbol = DNA is available for this individual in the CHIC repository; larger circle around an individual = CMT-affected samples sent for WGS</text>
</g>
</svg>
